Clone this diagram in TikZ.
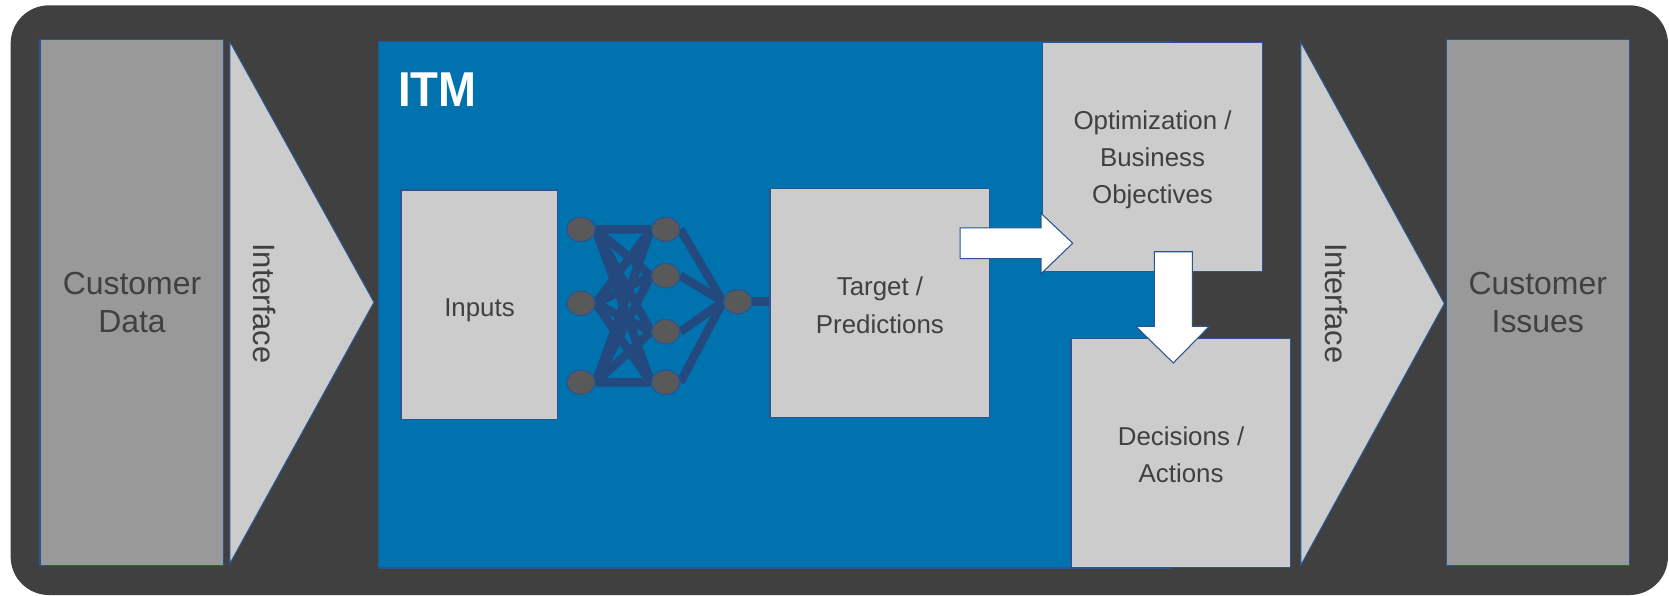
\documentclass[tikz,border=0pt]{standalone}
\usepackage{fontspec}
\setmainfont{Liberation Sans}
\usetikzlibrary{shapes.geometric}
\definecolor{framegray}{HTML}{404040}
\definecolor{dgray}{HTML}{999999}
\definecolor{lgray}{HTML}{CCCCCC}
\definecolor{itmblue}{HTML}{0073AF}
\definecolor{edgeblue}{HTML}{2A5590}
\definecolor{netblue}{HTML}{23497F}
\definecolor{txtgray}{HTML}{404040}
\definecolor{nodegray}{HTML}{595959}
\begin{document}
\begin{tikzpicture}[x=1pt,y=-1pt,
  box/.style={draw=edgeblue, line width=1pt, fill=lgray, rectangle, inner sep=0pt},
  lbl/.style={text=txtgray, align=center, inner sep=0pt, font=\fontsize{24.3}{35}\selectfont},
  bigl/.style={text=txtgray, align=center, inner sep=0pt, font=\fontsize{30}{35.7}\selectfont},
  ifl/.style={text=txtgray, inner sep=0pt, rotate=-90, font=\fontsize{29}{34}\selectfont},
  neuron/.style={ellipse, draw=edgeblue, line width=1pt, fill=nodegray, minimum width=26.6pt, minimum height=22.8pt, inner sep=0pt},
  synapse/.style={draw=netblue, line width=8pt, line cap=butt},
  blockarrow/.style={draw=edgeblue, line width=1pt, fill=white, line join=miter},
  funnel/.style={draw=edgeblue, line width=1pt, fill=lgray, line join=miter}]

\useasboundingbox (0,0) rectangle (1568,559);
\fill[white] (0,0) rectangle (1568,559);
\fill[framegray, rounded corners=36pt] (10,5) rectangle (1567,559);

% left side
\node[box, fill=dgray, minimum width=172.8pt, minimum height=494.3pt] (cdata) at (124,283.85) {};
\draw[funnel] (216,39) -- (351.4,284) -- (216,529.5) -- cycle;

% ITM area
\draw[fill=itmblue, draw=edgeblue, line width=1pt] (356,39.2) rectangle (1100,533.6);

\node[box, minimum width=146.9pt, minimum height=215.5pt] (inputs) at (450.15,286.25) {};

% neural net
\node[neuron] (a1) at (545.8,215.5) {};
\node[neuron] (a2) at (545.8,285) {};
\node[neuron] (a3) at (545.8,359.2) {};
\node[neuron] (b1) at (625.4,215.5) {};
\node[neuron] (b2) at (625.4,259) {};
\node[neuron] (b3) at (625.4,311.6) {};
\node[neuron] (b4) at (625.4,359.2) {};
\node[neuron] (out) at (693,283.4) {};

\node[box, minimum width=206.6pt, minimum height=215.4pt] (target) at (826.7,284.7) {};

\draw[synapse] (a1.east) -- (b1.west) (a1.east) -- (b2.west) (a1.east) -- (b3.west) (a1.east) -- (b4.west);
\draw[synapse] (a2.east) -- (b1.west) (a2.east) -- (b2.west) (a2.east) -- (b3.west) (a2.east) -- (b4.west);
\draw[synapse] (a3.east) -- (b1.west) (a3.east) -- (b2.west) (a3.east) -- (b3.west) (a3.east) -- (b4.west);
\draw[synapse] (b1.east) -- (out.west) (b2.east) -- (out.west) (b3.east) -- (out.west) (b4.east) -- (out.west);
\draw[synapse] (out.east) -- (out.east -| target.west);

% neurons again on top of the synapses
\node[neuron] (a1t) at (a1) {};
\node[neuron] (a2t) at (a2) {};
\node[neuron] (a3t) at (a3) {};
\node[neuron] (b1t) at (b1) {};
\node[neuron] (b2t) at (b2) {};
\node[neuron] (b3t) at (b3) {};
\node[neuron] (b4t) at (b4) {};
\node[neuron] (outt) at (out) {};

\node[box, minimum width=206.3pt, minimum height=215.3pt] (opt) at (1082.75,147.15) {};
\node[box, minimum width=206.4pt, minimum height=215.4pt] (dec) at (1109.4,425.5) {};

% block arrows
\draw[blockarrow] (902,214) -- (978,214) -- (978,200.4) -- (1007.8,228.5) -- (978,257.2) -- (978,243) -- (902,243) -- cycle;
\draw[blockarrow] (1084.5,236.5) -- (1120.2,236.5) -- (1120.2,306.5) -- (1136.2,306.5) -- (1102.3,341) -- (1067,306.5) -- (1084.5,306.5) -- cycle;

% right side
\draw[funnel] (1222,39.2) -- (1357,285.2) -- (1222,531.3) -- cycle;
\node[box, fill=dgray, minimum width=171.7pt, minimum height=494.6pt] (cissues) at (1444.85,284) {};

% texts
\node[bigl] (tcdata) at (124,284.4) {Customer\\Data};
\node[bigl] (tcissues) at (1444.7,284.4) {Customer\\Issues};
\node[ifl] (ifleft) at (248.5,285) {Interface};
\node[ifl] (ifright) at (1255.5,285) {Interface};
\node[anchor=base west, inner sep=0pt, text=white, font=\fontsize{46}{50}\selectfont\bfseries] (itm) at (374,100.2) {\scalebox{0.93}[1]{ITM}};
\node[lbl, anchor=base] (tinputs) at (450.5,297.5) {Inputs};
\node[lbl] (ttarget) at (826.7,286.7) {Target /\\Predictions};
\node[lbl] (topt) at (1082.8,150.3) {Optimization /\\Business\\Objectives};
\node[lbl] (tdec) at (1109.6,427.2) {Decisions /\\Actions};
\end{tikzpicture}
\end{document}
